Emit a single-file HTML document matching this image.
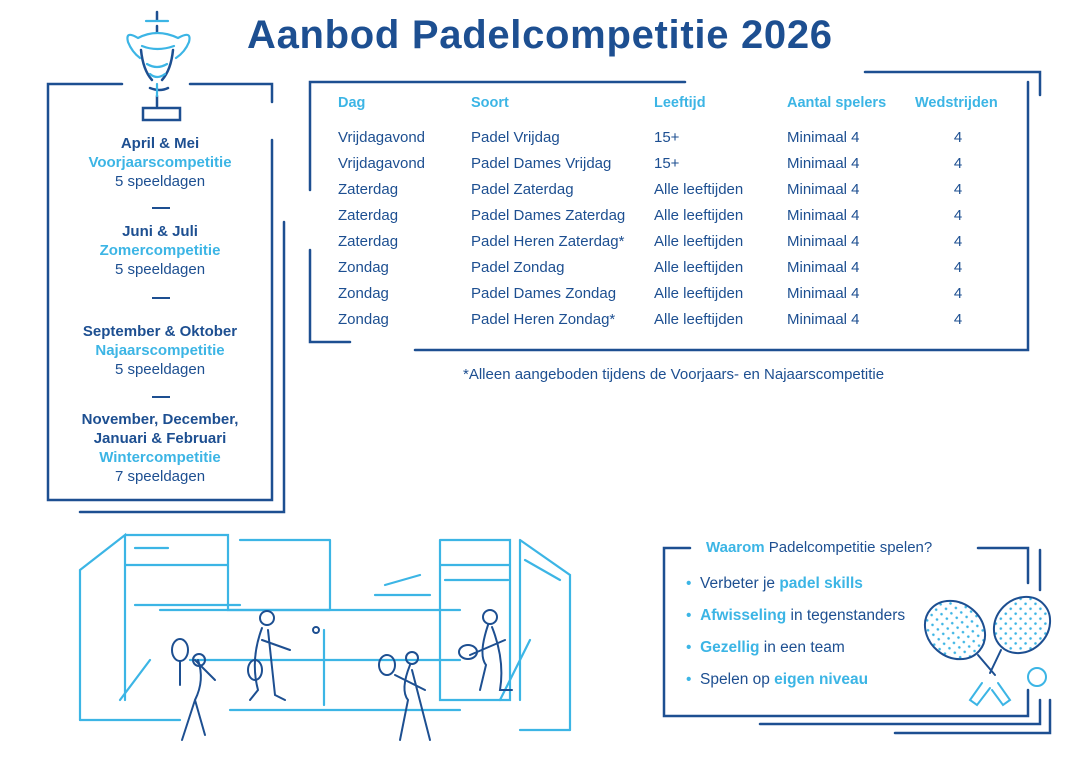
<!DOCTYPE html>
<html><head><meta charset="utf-8"><style>
body{margin:0;width:1082px;height:759px;background:#fff;position:relative;overflow:hidden;font-family:"Liberation Sans","DejaVu Sans",sans-serif;color:#1d4f91}
.t{position:absolute;white-space:nowrap}
.c{text-align:center;width:240px;left:40px;font-size:15px;line-height:19px}
.b{font-weight:bold}
.l{color:#3cb5e5;font-weight:bold}
.h{font-weight:bold;color:#3cb5e5;font-size:14.5px}
.r{font-size:15px}
</style></head><body>
<svg width="1082" height="759" style="position:absolute;left:0;top:0" fill="none" stroke-linecap="round">
<defs><pattern id="d" width="7" height="7" patternUnits="userSpaceOnUse"><circle cx="3.5" cy="3.5" r="1.3" fill="#3cb5e5"/></pattern></defs>
<g stroke="#1d4f91" stroke-width="2.5">
<path d="M122 84H48V500H272V140M190 84H272V102"/>
<path d="M284 222V512H80"/>
<path d="M310 190V82H685M310 250V342H350"/>
<path d="M865 72H1040V95M1028 82V350H415"/>
<path d="M690 548H664V716H1028V690M978 548H1028V583"/>
<path d="M1040 550V590M1040 700V724H760M1050 700V733H895"/>
<path d="M157 12V20M157 26V32M143 108H180V120H143Z M157 96V106"/>
<path d="M141 50Q143 70 152 80M173 50Q171 70 162 80M150 88Q160 92 168 88"/>
</g>
<g stroke="#3cb5e5" stroke-width="2.2">
<path d="M146 21H168M138 38Q157 28 178 38M142 46Q157 52 174 46M147 64Q157 70 167 64M150 74Q157 80 165 74M138 38Q125 30 128 42Q132 52 140 58M178 38Q192 30 189 42Q185 52 176 58M157 84V96"/>
<path d="M80 570V720M80 570L125 535V700M125 535H228V565H125M135 548L168 548M240 540H330M330 540V610M228 565V610H330M135 605H240"/>
<path d="M440 540V700H510V540H440M520 540L570 575V730M520 540V700M440 565H510M375 595H430M385 585L420 575M445 580H508M525 560L560 580"/>
<path d="M80 720H180M230 710H460M520 730H570M160 610H460M190 660H460M120 700L150 660M500 700L530 640"/>
<path d="M324 630V705"/>
</g>
<g stroke="#1d4f91" stroke-width="2">
<ellipse cx="180" cy="650" rx="8" ry="11"/><path d="M180 661V685M198 660Q205 680 195 700L205 735M195 700L182 740M195 660L215 680"/>
<circle cx="199" cy="660" r="6"/>
<ellipse cx="255" cy="670" rx="7" ry="10"/><circle cx="267" cy="618" r="7"/><path d="M262 628Q250 660 258 690L250 700M268 630L275 695L285 700M262 640L290 650"/>
<circle cx="316" cy="630" r="3"/>
<ellipse cx="387" cy="665" rx="8" ry="10"/><circle cx="412" cy="658" r="6"/><path d="M410 665Q400 690 408 700L400 740M412 670L430 740M395 675L425 690"/>
<ellipse cx="468" cy="652" rx="9" ry="7"/><circle cx="490" cy="617" r="7"/><path d="M488 625Q478 655 486 665L480 690M492 627Q505 660 500 690L512 690M470 655L505 640"/>
<ellipse cx="955" cy="630" rx="32" ry="27" transform="rotate(40 955 630)" fill="url(#d)"/>
<ellipse cx="1022" cy="625" rx="30" ry="26" transform="rotate(-45 1022 625)" fill="url(#d)"/>
<path d="M978 655L995 675M1001 650L990 673"/>
</g>
<g stroke="#3cb5e5" stroke-width="2">
<path d="M982 683L970 700L977 705L990 688M998 683L1010 700L1003 705L992 690"/>
<circle cx="1037" cy="677" r="9"/>
</g>
</svg>
<div class="t b" style="left:247px;top:13px;font-size:40px;letter-spacing:0.7px">Aanbod Padelcompetitie 2026</div>

<div class="t c" style="top:134px"><span class="b">April &amp; Mei</span><br><span class="l">Voorjaarscompetitie</span><br>5 speeldagen</div>
<div class="t b" style="left:152px;top:207px;width:18px;border-top:2.5px solid #1d4f91"></div>
<div class="t c" style="top:222px"><span class="b">Juni &amp; Juli</span><br><span class="l">Zomercompetitie</span><br>5 speeldagen</div>
<div class="t b" style="left:152px;top:297px;width:18px;border-top:2.5px solid #1d4f91"></div>
<div class="t c" style="top:322px"><span class="b">September &amp; Oktober</span><br><span class="l">Najaarscompetitie</span><br>5 speeldagen</div>
<div class="t b" style="left:152px;top:396px;width:18px;border-top:2.5px solid #1d4f91"></div>
<div class="t c" style="top:410px"><span class="b">November, December,<br>Januari &amp; Februari</span><br><span class="l">Wintercompetitie</span><br>7 speeldagen</div>

<div class="t h" style="left:338px;top:95px">Dag</div>
<div class="t h" style="left:471px;top:95px">Soort</div>
<div class="t h" style="left:654px;top:95px">Leeftijd</div>
<div class="t h" style="left:787px;top:95px">Aantal spelers</div>
<div class="t h" style="left:915px;top:95px">Wedstrijden</div>
<div class="t r" style="left:338px;top:125px;line-height:26px">Vrijdagavond<br>Vrijdagavond<br>Zaterdag<br>Zaterdag<br>Zaterdag<br>Zondag<br>Zondag<br>Zondag</div>
<div class="t r" style="left:471px;top:125px;line-height:26px">Padel Vrijdag<br>Padel Dames Vrijdag<br>Padel Zaterdag<br>Padel Dames Zaterdag<br>Padel Heren Zaterdag*<br>Padel Zondag<br>Padel Dames Zondag<br>Padel Heren Zondag*</div>
<div class="t r" style="left:654px;top:125px;line-height:26px">15+<br>15+<br>Alle leeftijden<br>Alle leeftijden<br>Alle leeftijden<br>Alle leeftijden<br>Alle leeftijden<br>Alle leeftijden</div>
<div class="t r" style="left:787px;top:125px;line-height:26px">Minimaal 4<br>Minimaal 4<br>Minimaal 4<br>Minimaal 4<br>Minimaal 4<br>Minimaal 4<br>Minimaal 4<br>Minimaal 4</div>
<div class="t r" style="left:948px;top:125px;line-height:26px;width:20px;text-align:center">4<br>4<br>4<br>4<br>4<br>4<br>4<br>4</div>
<div class="t r" style="left:463px;top:366px">*Alleen aangeboden tijdens de Voorjaars- en Najaarscompetitie</div>

<div class="t r" style="left:706px;top:539px"><span class="l">Waarom</span> Padelcompetitie spelen?</div>
<div class="t r" style="left:686px;top:568px;line-height:32px;font-size:15.5px"><span style="color:#3cb5e5">•</span>&nbsp; Verbeter je <span class="l">padel skills</span><br><span style="color:#3cb5e5">•</span>&nbsp; <span class="l">Afwisseling</span> in tegenstanders<br><span style="color:#3cb5e5">•</span>&nbsp; <span class="l">Gezellig</span> in een team<br><span style="color:#3cb5e5">•</span>&nbsp; Spelen op <span class="l">eigen niveau</span></div>
</body></html>
